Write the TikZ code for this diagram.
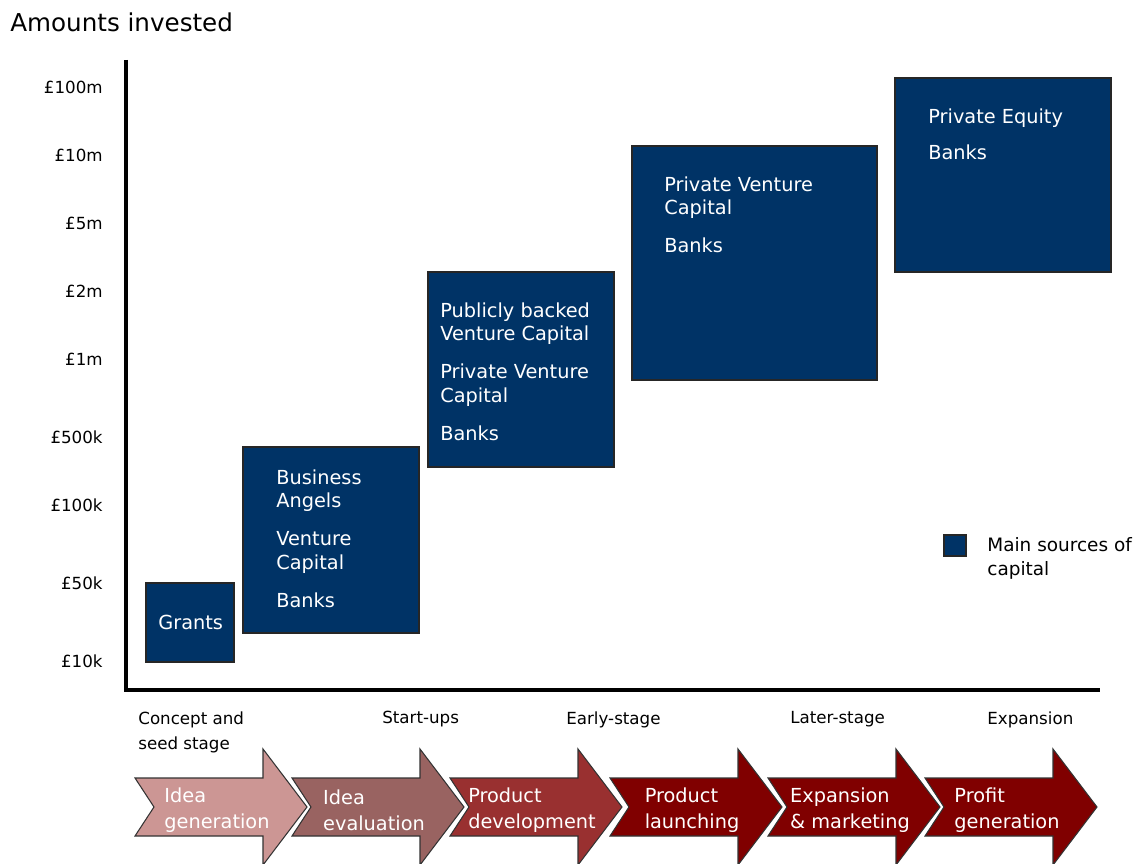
\documentclass[tikz,border=0pt]{standalone}
\usepackage{fontspec}
\setmainfont{DejaVu Sans}
\definecolor{navy}{RGB}{0,51,102}
\definecolor{stageA}{RGB}{204,150,148}
\definecolor{stageB}{RGB}{153,99,97}
\definecolor{stageC}{RGB}{153,48,48}
\definecolor{stageD}{RGB}{128,0,0}

\begin{document}
\begin{tikzpicture}[x=0.02cm,y=-0.02cm,
  srcbox/.style={draw=black!85,fill=navy,line width=0.6pt},
  boxtext/.style={anchor=north west,inner sep=0pt,align=left,text=white,font=\fontsize{11}{13.6}\selectfont},
  ylab/.style={anchor=east,inner sep=0pt,font=\fontsize{9.5}{11}\selectfont},
  stagelab/.style={anchor=north west,inner sep=0pt,align=left,font=\fontsize{9.5}{14.7}\selectfont},
  steparrow/.style={draw=black!80,line width=0.6pt},
  arrowtext/.style={align=left,text=white,font=\fontsize{11}{14.7}\selectfont}]
\useasboundingbox (0,0) rectangle (1133,864);

\node[anchor=west,inner sep=0pt,font=\fontsize{14}{16}\selectfont] (title) at (10,22) {Amounts invested};

% axes
\draw[line width=2pt] (126,60) -- (126,690) -- (1100,690);

% amounts
\node[ylab] (l1) at (103,87)  {£100m};
\node[ylab] (l2) at (103,155) {£10m};
\node[ylab] (l3) at (103,223) {£5m};
\node[ylab] (l4) at (103,291) {£2m};
\node[ylab] (l5) at (103,359) {£1m};
\node[ylab] (l6) at (103,437) {£500k};
\node[ylab] (l7) at (103,505) {£100k};
\node[ylab] (l8) at (103,583) {£50k};
\node[ylab] (l9) at (103,661) {£10k};

% sources of capital
\draw[srcbox] (146,583) rectangle (234,662);
\draw[srcbox] (243,447) rectangle (419,633);
\draw[srcbox] (428,272) rectangle (614,467);
\draw[srcbox] (632,146) rectangle (877,380);
\draw[srcbox] (895,78) rectangle (1111,272);

\node[boxtext] (grants) at (158,615) {Grants};
\node[boxtext] (angels) at (276,469) {Business\\Angels\\[8pt]Venture\\Capital\\[8pt]Banks};
\node[boxtext] (public) at (440,302) {Publicly backed\\Venture Capital\\[8pt]Private Venture\\Capital\\[8pt]Banks};
\node[boxtext] (private) at (664,176) {Private Venture\\Capital\\[8pt]Banks};
\node[boxtext] (equity) at (928,108) {Private Equity\\[7pt]Banks};

% legend
\draw[srcbox] (944,535) rectangle (966,556);
\node[anchor=north west,inner sep=0pt,align=left,font=\fontsize{10.5}{13.6}\selectfont] (legend) at (987,537) {Main sources of\\capital};

% stages
\node[stagelab] (concept) at (138,711) {Concept and\\seed stage};
\node[stagelab] (startups) at (382,711) {Start-ups};
\node[stagelab] (early) at (566,711) {Early-stage};
\node[stagelab] (later) at (790,711) {Later-stage};
\node[stagelab] (expansion) at (987,711) {Expansion};

% process arrows
\foreach \n/\x/\c/\t in {1/135/stageA/{Idea\\generation}, 2/292/stageB/{Idea\\evaluation},
    3/450/stageC/{Product\\development}, 4/610/stageD/{Product\\launching},
    5/768/stageD/{Expansion\\\& marketing}, 6/925/stageD/{Profit\\generation}} {
  \draw[steparrow,fill=\c] (\x,778) -- ({\x+128},778) -- ({\x+128},749) -- ({\x+172},807)
    -- ({\x+128},865) -- ({\x+128},836) -- (\x,836) -- ({\x+19},807) -- cycle;
  \node[arrowtext] (arr\n) at ({\x+82},810) {\t};
}
\end{tikzpicture}
\end{document}
